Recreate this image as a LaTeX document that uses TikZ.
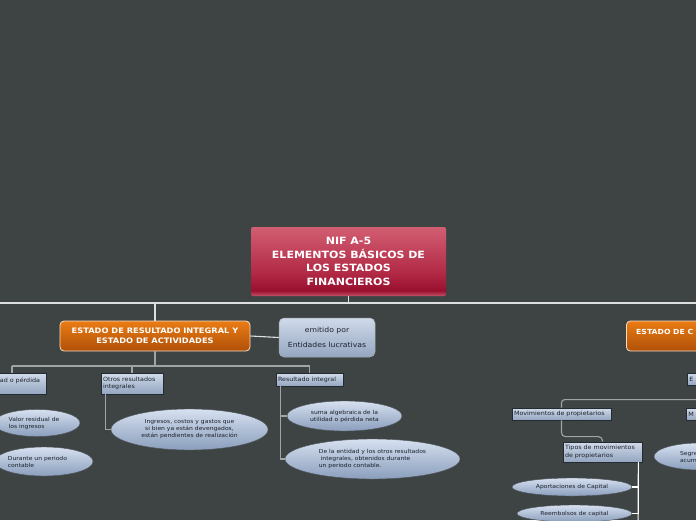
\documentclass[tikz,border=0pt]{standalone}
\usepackage{fontspec}
\setmainfont{DejaVu Sans}[FakeStretch=1.1]
\usetikzlibrary{shapes.geometric}
\definecolor{bg}{RGB}{62,68,68}
\definecolor{roottop}{RGB}{210,94,114}
\definecolor{rootmid}{RGB}{178,42,70}
\definecolor{rootdark}{RGB}{152,16,46}
\definecolor{rootbot}{RGB}{196,82,102}
\definecolor{orgtop}{RGB}{234,124,20}
\definecolor{orgbot}{RGB}{176,80,8}
\definecolor{boxtop}{RGB}{208,218,234}
\definecolor{boxbot}{RGB}{148,166,192}
\definecolor{elltop}{RGB}{214,224,240}
\definecolor{ellbot}{RGB}{138,158,188}
\definecolor{txt}{RGB}{28,34,44}
\definecolor{linegray}{RGB}{160,164,164}
\definecolor{buscol}{RGB}{222,224,224}
\definecolor{boxedge}{RGB}{36,42,50}
\pgfdeclareverticalshading{rootshade}{100bp}{color(0bp)=(rootbot); color(25bp)=(rootbot); color(29bp)=(rootdark); color(42bp)=(rootmid); color(75bp)=(roottop); color(100bp)=(roottop)}
\tikzset{
  rootbox/.style={rectangle, rounded corners=2pt, shading=rootshade, text=white,
    font=\bfseries\fontsize{10}{13.5}\selectfont, align=center, minimum width=195pt, minimum height=69pt, inner sep=0pt},
  orangebox/.style={rectangle, rounded corners=4pt, top color=orgtop, bottom color=orgbot,
    draw=white!75!orgtop, line width=0.8pt, text=white, font=\bfseries\fontsize{7.5}{10}\selectfont,
    align=center, minimum width=190pt, minimum height=30pt, inner sep=0pt},
  infobox/.style={rectangle, rounded corners=5pt, top color=boxtop, bottom color=boxbot,
    draw=gray!70, line width=0.5pt, text=txt, font=\fontsize{7}{8.5}\selectfont, align=center,
    minimum width=96pt, minimum height=39pt, inner sep=0pt},
  smallbox/.style={rectangle, top color=boxtop, bottom color=boxbot, draw=boxedge, line width=0.7pt,
    text=txt, font=\fontsize{5.8}{7.5}\selectfont, align=left, inner sep=0pt},
  oval/.style={ellipse, top color=elltop, bottom color=ellbot, draw=boxedge!80, line width=0.4pt,
    text=txt, font=\fontsize{5.5}{7}\selectfont, align=center, inner sep=0pt},
  bus/.style={draw=buscol, line width=1.6pt},
  link/.style={draw=linegray, line width=1.1pt},
  wlink/.style={draw=white, line width=1.1pt},
}
\begin{document}
\begin{tikzpicture}[x=1pt,y=-1pt]
\fill[bg] (0,0) rectangle (696,520);
\useasboundingbox (0,0) rectangle (696,520);
\clip (0,0) rectangle (696,520);

% root
\node[rootbox] (root) at (348.5,261.5) {NIF A-5\\ELEMENTOS BÁSICOS DE\\LOS ESTADOS\\ FINANCIEROS};
\coordinate (busL) at (0,303);
\coordinate (busR) at (696,303);
\draw[bus] (busL) -- (busR);
\draw[bus] (root.south) -- (root.south |- busL);

% left branch
\node[orangebox] (orgL) at (155,336) {ESTADO DE RESULTADO INTEGRAL Y\\ESTADO DE ACTIVIDADES};
\draw[bus] (orgL.north) -- (orgL.north |- busL);
\node[infobox] (emit) at (327,337.5) {emitido por\\[7pt]Entidades lucrativas};
\draw[bus,line width=1.1pt] (orgL.east) -- (emit.west);

% right branch
\node[orangebox, anchor=west] (orgR) at (626,336) {};
\node[anchor=west, text=white, font=\bfseries\fontsize{7}{10}\selectfont, inner sep=0pt] (orgRt) at (636,332) {ESTADO DE C};

% level 2 left
\node[smallbox, minimum width=76pt, minimum height=21pt, text width=70pt] (util) at (8,383.5) {\hspace*{27pt}ad o pérdida\\\mbox{}};
\node[smallbox, minimum width=62pt, minimum height=21pt, text width=58pt] (otros) at (132,383.5) {Otros resultados\\integrales};
\node[smallbox, minimum width=67pt, minimum height=13pt, text width=63pt] (res) at (309.5,379.5) {Resultado integral};
\coordinate (j1) at (12,366);
\draw[link] (orgL.south) -- (orgL.south |- j1);
\draw[link] (j1) -- (res.north |- j1);
\draw[link] (j1) -- (j1 |- util.north);
\draw[link] (otros.north) -- (otros.north |- j1);
\draw[link] (res.north) -- (res.north |- j1);

% ellipses left
\node[oval, minimum width=86pt, minimum height=27pt, align=left] (valor) at (37,423) {\hspace*{-6pt}Valor residual de\\\hspace*{-6pt}los ingresos};
\node[oval, minimum width=98pt, minimum height=29pt, align=left] (durante) at (44,461.5) {\hspace*{-6pt}Durante un periodo\\\hspace*{-6pt}contable\hspace*{40pt}};
\node[oval, minimum width=157pt, minimum height=41pt] (ingr) at (189.5,429.5) {Ingresos, costos y gastos que\\si bien ya están devengados,\\están pendientes de realización};
\node[oval, minimum width=115pt, minimum height=30pt] (suma) at (344.5,416) {suma algebraica de la\\utilidad o pérdida neta};
\node[oval, minimum width=175pt, minimum height=40pt, align=left] (entidad) at (372.5,459) {De la entidad y los otros resultados\\\ integrales, obtenidos durante\\un periodo contable.};
\draw[link] ([xshift=5pt]otros.south west) |- (ingr.west);
\draw[link] ([xshift=5pt]res.south west) |- (suma.west);
\draw[link] ([xshift=5pt]res.south west) |- (entidad.west);

% right side
\node[smallbox, anchor=west, minimum width=40pt, minimum height=12pt, text width=36pt] (bE) at (687,379) {E};
\node[smallbox, anchor=west, minimum width=40pt, minimum height=12pt, text width=36pt] (bM) at (686,414) {M};
\node[smallbox, minimum width=99pt, minimum height=12pt, text width=95pt] (mov) at (561.5,414) {Movimientos de propietarios};
\draw[link, rounded corners=3pt] (mov.north) |- ([yshift=8pt]bM.north);
\node[smallbox, minimum width=79pt, minimum height=20pt, text width=75pt] (tipos) at (602.5,452) {Tipos de movimientos\\de propietarios};
\draw[link, rounded corners=4pt] (mov.south) |- ([yshift=5pt]tipos.north) -- (tipos.north);
\node[oval, minimum width=120pt, minimum height=18pt] (apor) at (572,487) {Aportaciones de Capital};
\node[oval, minimum width=115pt, minimum height=17pt] (reem) at (574.5,513.5) {Reembolsos de capital};
\coordinate (tipEnd) at (638,530);
\draw[wlink] ([xshift=-4pt]tipos.south east) -- (tipEnd);
\draw[wlink] ([xshift=-4pt]tipos.south east) |- (apor.east);
\draw[wlink] ([xshift=-4pt]tipos.south east) |- (reem.east);
\node[oval, minimum width=92pt, minimum height=27pt, text width=40pt, align=left] (segre) at (700,456.5) {Segre\\acum};
\end{tikzpicture}
\end{document}
